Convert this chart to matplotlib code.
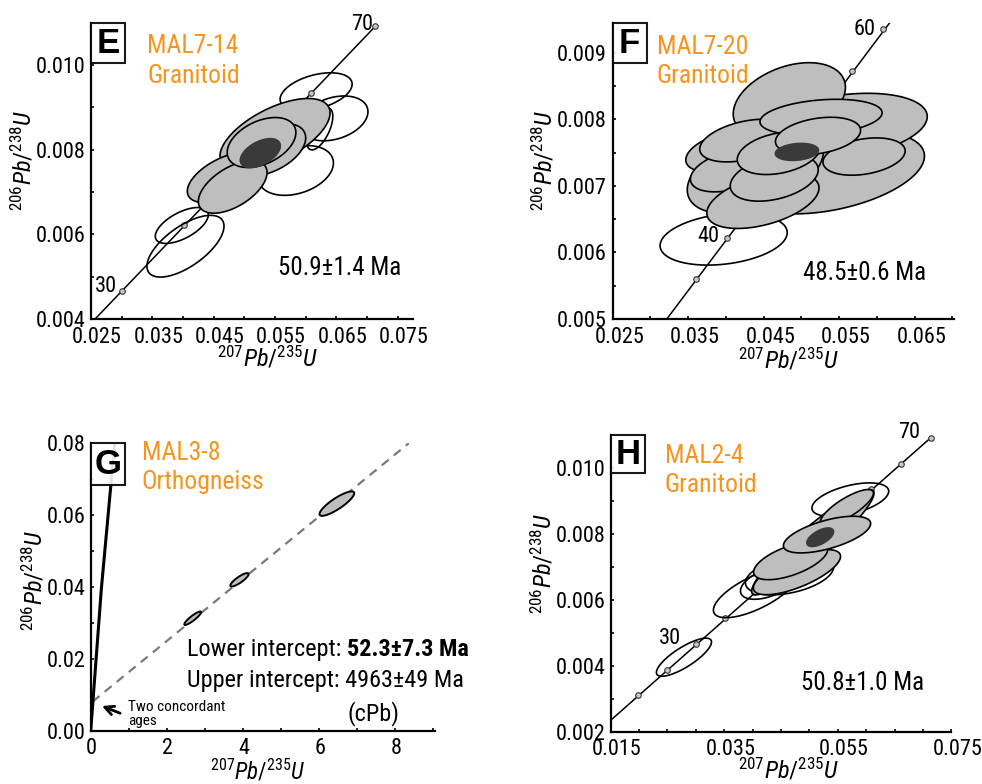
import numpy as np
import matplotlib
matplotlib.use('Agg')
import matplotlib.pyplot as plt
from matplotlib import font_manager
from matplotlib.patches import Rectangle
from matplotlib.transforms import ScaledTranslation


def pick_narrow_font():
    # look for a condensed sans face, the reference uses a narrow Helvetica-like type
    found = {}
    for f in font_manager.fontManager.ttflist:
        st = str(f.stretch)
        narrow = ('Narrow' in f.name or 'Condensed' in f.name
                  or st in ('condensed', 'semi-condensed'))
        if narrow and f.style == 'normal':
            found.setdefault(f.name, set()).add(st)
    for name in ['Liberation Sans Narrow', 'Arial Narrow', 'Nimbus Sans Narrow',
                 'Roboto Condensed', 'DejaVu Sans', 'Noto Sans', 'Open Sans', 'Roboto']:
        if name in found:
            st = 'condensed' if 'condensed' in found[name] else sorted(found[name])[0]
            return name, st, 1.0
    return 'Liberation Sans', 'normal', 0.86


FONT, STRETCH, K = pick_narrow_font()
plt.rcParams['font.family'] = [FONT, 'DejaVu Sans']
plt.rcParams['font.stretch'] = STRETCH
plt.rcParams['mathtext.fontset'] = 'custom'
plt.rcParams['mathtext.rm'] = f'{FONT}:stretch={STRETCH}'
plt.rcParams['mathtext.it'] = f'{FONT}:style=italic:stretch={STRETCH}'
plt.rcParams['mathtext.bf'] = f'{FONT}:weight=bold:stretch={STRETCH}'

ORANGE = '#F7941D'
GREY = '#BEBEBE'
DARK = '#3A3A3A'

# ---- concordia curves (207Pb/235U, 206Pb/238U) and their age marks
e_line_x = [0.02566, 0.07137]
e_line_y = [0.00400, 0.010918]
e_mark_x = [0.02999, 0.04018, 0.05048, 0.06087, 0.07137]
e_mark_y = [0.004665, 0.006224, 0.007786, 0.009351, 0.010918]

f_line_x = [0.03217, 0.0617]
f_line_y = [0.00500, 0.00945]
f_mark_x = [0.03609, 0.04018, 0.04429, 0.04841, 0.05255, 0.05670, 0.06087]
f_mark_y = [0.005600, 0.006224, 0.006849, 0.007474, 0.008099, 0.008725, 0.009351]

h_line_x = [0.01500, 0.07137]
h_line_y = [0.002348, 0.010918]
h_mark_x = [0.01989, 0.02493, 0.02999, 0.03507, 0.04018, 0.04532, 0.05048,
            0.05566, 0.06087, 0.06611, 0.07137]
h_mark_y = [0.003107, 0.003886, 0.004665, 0.005444, 0.006224, 0.007005, 0.007786,
            0.008568, 0.009351, 0.010134, 0.010918]

g_line_x = [0.0, 0.279, 0.630]
g_line_y = [0.0, 0.0395, 0.080]
g_discordia_x = [0.05, 8.36]
g_discordia_y = [0.0081, 0.080]

# ---- error ellipses: (centre x, centre y, half-range x, half-range y, rho)
e_open = [(0.0617, 0.00937, 0.00587, 0.000447, 0.4),
          (0.0646, 0.00874, 0.00555, 0.000529, 0.3),
          (0.0584, 0.00751, 0.00612, 0.000588, 0.3),
          (0.0623, 0.00849, 0.00212, 0.000494, 0.6),
          (0.0398, 0.00621, 0.00432, 0.000424, 0.6),
          (0.0404, 0.00572, 0.00628, 0.000729, 0.65)]
e_grey = [(0.0550, 0.00836, 0.00897, 0.000850, 0.6),
          (0.0540, 0.00800, 0.00600, 0.000620, 0.45),
          (0.0469, 0.00735, 0.00620, 0.000600, 0.55),
          (0.0481, 0.00712, 0.00560, 0.000620, 0.55),
          (0.0528, 0.00817, 0.00560, 0.000590, 0.4)]
e_mean = (0.0526, 0.00792, 0.00326, 0.000341, 0.5)

f_open = [(0.0397, 0.00620, 0.00842, 0.000390, 0.25)]
f_grey = [(0.0541, 0.00720, 0.01220, 0.000620, 0.4),
          (0.0554, 0.00789, 0.01127, 0.000500, 0.3),
          (0.0439, 0.00723, 0.00902, 0.000645, 0.45),
          (0.0484, 0.00828, 0.00743, 0.000570, 0.35),
          (0.0583, 0.00744, 0.00544, 0.000280, 0.3),
          (0.0396, 0.00751, 0.00491, 0.000300, 0.4),
          (0.0406, 0.00723, 0.00530, 0.000320, 0.4),
          (0.0425, 0.00768, 0.00597, 0.000320, 0.4),
          (0.0449, 0.00678, 0.00743, 0.000420, 0.45),
          (0.0464, 0.00712, 0.00583, 0.000350, 0.35),
          (0.0526, 0.00803, 0.00809, 0.000270, 0.25),
          (0.0470, 0.00749, 0.00550, 0.000320, 0.3),
          (0.0522, 0.00775, 0.00564, 0.000280, 0.3)]
f_mean = (0.0494, 0.00751, 0.00285, 0.000127, 0.2)

g_grey = [(2.68, 0.0313, 0.22, 0.00187, 0.9),
          (3.91, 0.0420, 0.24, 0.00187, 0.85),
          (6.47, 0.0632, 0.456, 0.0034, 0.85)]

h_open = [(0.0572, 0.00904, 0.00676, 0.000508, 0.5),
          (0.0465, 0.00676, 0.00777, 0.000608, 0.4),
          (0.0405, 0.00622, 0.00741, 0.000760, 0.7),
          (0.0428, 0.00652, 0.00494, 0.000502, 0.5),
          (0.0279, 0.00426, 0.00485, 0.000578, 0.8)]
h_grey = [(0.0506, 0.00775, 0.01077, 0.001596, 0.93),
          (0.0566, 0.00880, 0.00468, 0.000547, 0.8),
          (0.0478, 0.00684, 0.00768, 0.000684, 0.7),
          (0.0467, 0.00719, 0.00653, 0.000578, 0.6),
          (0.0531, 0.00798, 0.00768, 0.000556, 0.6)]
h_mean = (0.0519, 0.00790, 0.00235, 0.000280, 0.6)


def ellipse(ax, e, face, edge='black', lw=1.2, z=2):
    cx, cy, sx, sy, rho = e
    t = np.linspace(0, 2 * np.pi, 150)
    x = cx + sx * np.cos(t)
    y = cy + sy * (rho * np.cos(t) + np.sqrt(1 - rho ** 2) * np.sin(t))
    ax.fill(x, y, facecolor=face, edgecolor=edge, lw=lw, zorder=z)


def style(ax, xlim, ylim, xmaj, xmin, ymaj, ymin, xfmt, yfmt, shift_px=6):
    ax.set_xlim(*xlim)
    ax.set_ylim(*ylim)
    for s in ['top', 'right']:
        ax.spines[s].set_visible(False)
    for s in ['left', 'bottom']:
        ax.spines[s].set_linewidth(1.6)
    ax.set_xticks(xmaj)
    ax.set_xticks(xmin, minor=True)
    ax.set_yticks(ymaj)
    ax.set_yticks(ymin, minor=True)
    ax.set_xticklabels([xfmt % v for v in xmaj])
    ax.set_yticklabels([yfmt % v for v in ymaj])
    ax.tick_params(which='both', direction='in', width=1.2, length=2.5,
                   labelsize=16 * K)
    ax.tick_params(axis='x', pad=5.5)
    ax.tick_params(axis='y', pad=4)
    # the original labels sit a few pixels right of their ticks
    shift = ScaledTranslation(shift_px / 100, 0, ax.figure.dpi_scale_trans)
    for lab in ax.get_xticklabels():
        lab.set_transform(lab.get_transform() + shift)


def panel_text(ax, letter, sample, rock, sx, sy, boxw, boxh, xl, yl, label_size=17.5):
    ax.add_patch(Rectangle((0, 1 - boxh), boxw, boxh, transform=ax.transAxes,
                           facecolor='white', edgecolor='black', lw=1.5,
                           alpha=0.9, clip_on=False, zorder=6))
    ax.text(boxw / 2, 1 - boxh / 2, letter, transform=ax.transAxes, ha='center',
            va='center', fontsize=25, fontweight='bold', family='Liberation Sans',
            fontstretch='normal', zorder=7)
    ax.text(sx, sy, sample, transform=ax.transAxes, color=ORANGE, fontsize=18.5 * K,
            va='center', ha='left')
    ax.text(sx, sy - 0.10, rock, transform=ax.transAxes, color=ORANGE, fontsize=18.5 * K,
            va='center', ha='left')
    ax.text(xl[0], xl[1], r'$\mathit{^{207}Pb/^{235}U}$', transform=ax.transAxes,
            ha='center', va='center', fontsize=label_size * K)
    ax.text(yl[0], yl[1], r'$\mathit{^{206}Pb/^{238}U}$', transform=ax.transAxes,
            ha='center', va='center', fontsize=17.5 * K, rotation=90)


def concordia(ax, lx, ly, mx=None, my=None, lw=1.1):
    ax.plot(lx, ly, color='black', lw=lw, zorder=1.5)
    if mx is not None:
        ax.plot(mx, my, 'o', ms=4, mfc='#c8c8c8', mec='#333333', mew=0.8, zorder=1.6)


fig = plt.figure(figsize=(9.82, 7.84), dpi=100)

# ---------------- E
axE = fig.add_axes([0.0927, 0.5931, 0.3279, 0.3779])
style(axE, (0.025, 0.0775), (0.004, 0.011),
      [0.025, 0.035, 0.045, 0.055, 0.065, 0.075], [0.030, 0.040, 0.050, 0.060, 0.070],
      [0.004, 0.006, 0.008, 0.010], [0.005, 0.007, 0.009], '%.3f', '%.3f')
concordia(axE, e_line_x, e_line_y, e_mark_x, e_mark_y)
for e in e_open:
    ellipse(axE, e, 'none', z=1.8)
for e in e_grey:
    ellipse(axE, e, GREY)
ellipse(axE, e_mean, DARK, edge=DARK, z=3)
axE.annotate('30', (e_mark_x[0], e_mark_y[0]), xytext=(-3, 3), textcoords='offset points',
             ha='right', va='center', fontsize=16 * K)
axE.annotate('70', (e_mark_x[-1], e_mark_y[-1]), xytext=(-2, 1), textcoords='offset points',
             ha='right', va='center', fontsize=16 * K)
axE.text(0.581, 0.172, '50.9±1.4 Ma', transform=axE.transAxes, fontsize=18 * K, va='center')
panel_text(axE, 'E', 'MAL7-14', 'Granitoid', 0.174, 0.921, 0.1056, 0.137,
           (0.547, -0.134), (-0.211, 0.537))

# ---------------- F
axF = fig.add_axes([0.6239, 0.5931, 0.3475, 0.3779])
style(axF, (0.025, 0.0702), (0.005, 0.00945),
      [0.025, 0.035, 0.045, 0.055, 0.065], [0.030, 0.040, 0.050, 0.060, 0.070],
      [0.005, 0.006, 0.007, 0.008, 0.009], [0.0055, 0.0065, 0.0075, 0.0085], '%.3f', '%.3f',
      shift_px=7)
concordia(axF, f_line_x, f_line_y, f_mark_x, f_mark_y)
for e in f_open:
    ellipse(axF, e, 'none', z=1.8)
for e in f_grey:
    ellipse(axF, e, GREY)
ellipse(axF, f_mean, DARK, edge=DARK, z=3)
axF.annotate('40', (f_mark_x[1], f_mark_y[1]), xytext=(-6, 1), textcoords='offset points',
             ha='right', va='center', fontsize=16 * K, zorder=4)
axF.annotate('60', (f_mark_x[-1], f_mark_y[-1]), xytext=(-6, 0), textcoords='offset points',
             ha='right', va='center', fontsize=16 * K)
axF.text(0.558, 0.154, '48.5±0.6 Ma', transform=axF.transAxes, fontsize=18 * K, va='center')
panel_text(axF, 'F', 'MAL7-20', 'Granitoid', 0.129, 0.919, 0.0996, 0.137,
           (0.517, -0.138), (-0.201, 0.537))

# ---------------- G
axG = fig.add_axes([0.0924, 0.068, 0.3506, 0.3666])
style(axG, (0, 9.05), (0, 0.08), [0, 2, 4, 6, 8], [1, 3, 5, 7, 9],
      [0, 0.02, 0.04, 0.06, 0.08], [0.01, 0.03, 0.05, 0.07], '%d', '%.2f', shift_px=1)
axG.plot(g_discordia_x, g_discordia_y, color='#7a7a7a', lw=1.6, ls=(0, (4, 3)), zorder=1.5)
concordia(axG, g_line_x, g_line_y, lw=2.2)
for e in g_grey:
    ellipse(axG, e, GREY, lw=1.4)
axG.annotate('', xy=(0.226, 0.00716), xytext=(0.84, 0.00457),
             arrowprops=dict(arrowstyle='->', color='black', lw=2, mutation_scale=16))
axG.text(0.99, 0.0065, 'Two concordant', fontsize=11 * K, va='center', ha='left')
axG.text(0.99, 0.0026, 'ages', fontsize=11 * K, va='center', ha='left')
t1 = axG.text(2.54, 0.0225, 'Lower intercept: ', fontsize=17.5 * K, va='center')
axG.annotate('52.3±7.3 Ma', xy=(1, 0.5), xycoords=t1, va='center', fontsize=17.5 * K,
             fontweight='bold')
axG.text(2.54, 0.0141, 'Upper intercept: 4963±49 Ma', fontsize=17.5 * K, va='center')
axG.text(7.43, 0.0049, '(cPb)', fontsize=17.5 * K, va='center', ha='center')
panel_text(axG, 'G', 'MAL3-8', 'Orthogneiss', 0.148, 0.965, 0.0996, 0.145,
           (0.484, -0.143), (-0.165, 0.524), label_size=16.5)

# ---------------- H
axH = fig.add_axes([0.6219, 0.0667, 0.3469, 0.3784])
style(axH, (0.015, 0.075), (0.002, 0.011), [0.015, 0.035, 0.055, 0.075],
      [0.020, 0.025, 0.030, 0.040, 0.045, 0.050, 0.060, 0.065, 0.070],
      [0.002, 0.004, 0.006, 0.008, 0.010], [0.003, 0.005, 0.007, 0.009, 0.011], '%.3f', '%.3f')
concordia(axH, h_line_x, h_line_y, h_mark_x, h_mark_y)
for e in h_open:
    ellipse(axH, e, 'none', z=1.8)
for e in h_grey:
    ellipse(axH, e, GREY)
ellipse(axH, h_mean, DARK, edge=DARK, z=3)
axH.annotate('30', (h_mark_x[2], h_mark_y[2]), xytext=(-11, 4), textcoords='offset points',
             ha='right', va='center', fontsize=16 * K)
axH.annotate('70', (h_mark_x[-1], h_mark_y[-1]), xytext=(-8, 4), textcoords='offset points',
             ha='right', va='center', fontsize=16 * K)
axH.text(0.560, 0.163, '50.8±1.0 Ma', transform=axH.transAxes, fontsize=18 * K, va='center')
panel_text(axH, 'H', 'MAL2-4', 'Granitoid', 0.159, 0.930, 0.1006, 0.128,
           (0.523, -0.130), (-0.199, 0.569))

fig.savefig('out.png', dpi=100)
